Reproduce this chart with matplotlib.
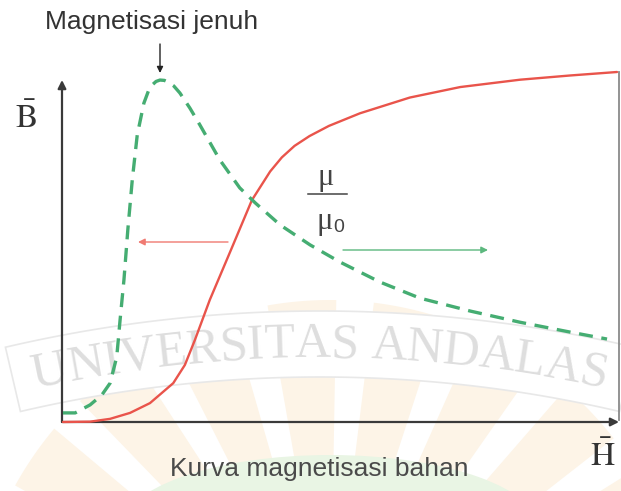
import numpy as np
import matplotlib.pyplot as plt
from matplotlib.patches import Polygon, Ellipse

plt.rcParams['mathtext.fontset'] = 'stix'

# magnetisation curve B(H), B normalised to its saturation value
h_b = [0, 0.49, 0.85, 1.21, 1.57, 1.99, 2.20, 2.38, 2.65, 3.03, 3.41,
       3.74, 3.95, 4.18, 4.45, 4.80, 5.36, 6.26, 7.17, 8.25, 9.15, 10.0]
b_val = [0, 0.001, 0.009, 0.026, 0.054, 0.111, 0.163, 0.234, 0.349, 0.491,
         0.634, 0.716, 0.756, 0.789, 0.817, 0.846, 0.882, 0.927, 0.957,
         0.978, 0.990, 1.0]

# relative permeability mu/mu0 on the same H scale
h_mu = [0, 0.22, 0.49, 0.70, 0.85, 0.97, 1.03, 1.10, 1.17, 1.25, 1.34,
        1.46, 1.54, 1.61, 1.68, 1.75, 1.83, 1.90, 2.00, 2.11, 2.29, 2.47,
        2.83, 3.19, 3.47, 3.92, 4.46, 5.00, 5.72, 6.44, 7.35, 8.25, 9.15, 9.82]
mu_rel = [0.026, 0.026, 0.049, 0.077, 0.111, 0.186, 0.291, 0.406, 0.549,
          0.691, 0.820, 0.911, 0.945, 0.963, 0.973, 0.977, 0.976, 0.971,
          0.960, 0.940, 0.897, 0.849, 0.749, 0.669, 0.626, 0.563, 0.506,
          0.457, 0.400, 0.354, 0.317, 0.285, 0.257, 0.237]

watermark = "UNIVERSITAS ANDALAS"
# rough advance widths of the serif capitals, in em
char_w = {'U': .722, 'N': .722, 'I': .333, 'V': .722, 'E': .611, 'R': .667,
          'S': .556, 'T': .611, 'A': .722, 'D': .722, 'L': .611, ' ': .25}

W, H = 621, 491
fig = plt.figure(figsize=(W / 100, H / 100), dpi=100)

# full-figure layer in pixel units for the background and labels
bg = fig.add_axes([0, 0, 1, 1])
bg.set_xlim(0, W)
bg.set_ylim(H, 0)
bg.axis('off')

# faint rays behind the lower part
cx, cy = 330, 660
for a0 in range(-78, 78, 17):
    t = np.radians(np.linspace(a0, a0 + 11, 20))
    r0, r1 = 120, 360
    xs = np.concatenate([cx + r1 * np.sin(t), cx + r0 * np.sin(t[::-1])])
    ys = np.concatenate([cy - r1 * np.cos(t), cy - r0 * np.cos(t[::-1])])
    bg.add_patch(Polygon(np.column_stack([xs, ys]), closed=True,
                         fc='#fdf4e7', ec='none', zorder=0))
bg.add_patch(Ellipse((330, 530), 420, 150, fc='#e9f5e4', ec='none', zorder=0.5))

# curved band with the watermark lettering
acx, acy, rt = 320, 1695, 1350
em = 36 * 100 / 72
total = sum(char_w[c] for c in watermark) * em
half = (total / 2 + 20) / rt
t = np.linspace(-half, half, 80)
xs = np.concatenate([acx + (rt + 34) * np.sin(t), acx + (rt - 32) * np.sin(t[::-1])])
ys = np.concatenate([acy - (rt + 34) * np.cos(t), acy - (rt - 32) * np.cos(t[::-1])])
bg.add_patch(Polygon(np.column_stack([xs, ys]), closed=True,
                     fc='white', ec='#e8e8e8', lw=1.2, zorder=1))
s = -total / 2
for c in watermark:
    w = char_w[c] * em
    th = (s + w / 2) / rt
    bg.text(acx + rt * np.sin(th), acy - rt * np.cos(th), c,
            family='Liberation Serif', fontsize=36, color='#dedede',
            ha='center', va='center', rotation=-np.degrees(th),
            rotation_mode='anchor', zorder=1.5)
    s += w

# right-hand page edge
bg.plot([619, 619], [72, 420], color='#8a8a8a', lw=1.3, zorder=2)

# axes with arrow heads
ax_kw = dict(arrowstyle='-|>', color='#3a3a3a', lw=1.6,
             mutation_scale=12, shrinkA=0, shrinkB=0)
bg.annotate('', xy=(62, 80), xytext=(62, 422), arrowprops=ax_kw, zorder=3)
bg.annotate('', xy=(619, 422), xytext=(62, 422), arrowprops=ax_kw, zorder=3)
bg.text(26, 118, r'$\bar{\mathrm{B}}$', fontsize=24, color='#333333',
        ha='center', va='center')
bg.text(603, 457, r'$\bar{\mathrm{H}}$', fontsize=24, color='#333333',
        ha='center', va='center')

# labels
bg.text(152, 22, 'Magnetisasi jenuh', family='Liberation Sans', fontsize=19,
        color='#333333', ha='center', va='center')
bg.annotate('', xy=(160, 73), xytext=(160, 44),
            arrowprops=dict(arrowstyle='-|>', color='#222222', lw=1,
                            mutation_scale=9, shrinkA=0, shrinkB=0))
bg.text(326, 178, 'μ', family='Liberation Serif', fontsize=22,
        color='#444444', ha='center', va='center')
bg.plot([308, 347], [194, 194], color='#444444', lw=1.1)
bg.text(325, 222, 'μ', family='Liberation Serif', fontsize=22,
        color='#444444', ha='center', va='center')
bg.text(339, 228, '0', family='Liberation Sans', fontsize=14,
        color='#444444', ha='center', va='center')
bg.text(319, 469, 'Kurva magnetisasi bahan', family='Liberation Sans',
        fontsize=19, color='#4a4a4a', ha='center', va='center', zorder=3)

# direction arrows pointing to each curve's scale
bg.annotate('', xy=(138, 242), xytext=(228, 242),
            arrowprops=dict(arrowstyle='-|>', color='#f07a72', lw=1,
                            mutation_scale=10, shrinkA=0, shrinkB=0))
bg.annotate('', xy=(488, 250), xytext=(343, 250),
            arrowprops=dict(arrowstyle='-|>', color='#5cb87e', lw=1,
                            mutation_scale=10, shrinkA=0, shrinkB=0))

# curves in H-B units
ax = fig.add_axes([63 / W, 69 / H, 554 / W, 350 / H])
ax.set_zorder(3)
ax.patch.set_alpha(0)
ax.set_xlim(0, 10)
ax.set_ylim(0, 1)
ax.axis('off')
ax.plot(h_b, b_val, color='#e9544b', lw=1.7, clip_on=False,
        solid_capstyle='round')
ax.plot(h_mu, mu_rel, color='#45ad72', lw=2.4, ls=(0, (4.2, 2.6)),
        clip_on=False)

fig.savefig('out.png', dpi=100)
